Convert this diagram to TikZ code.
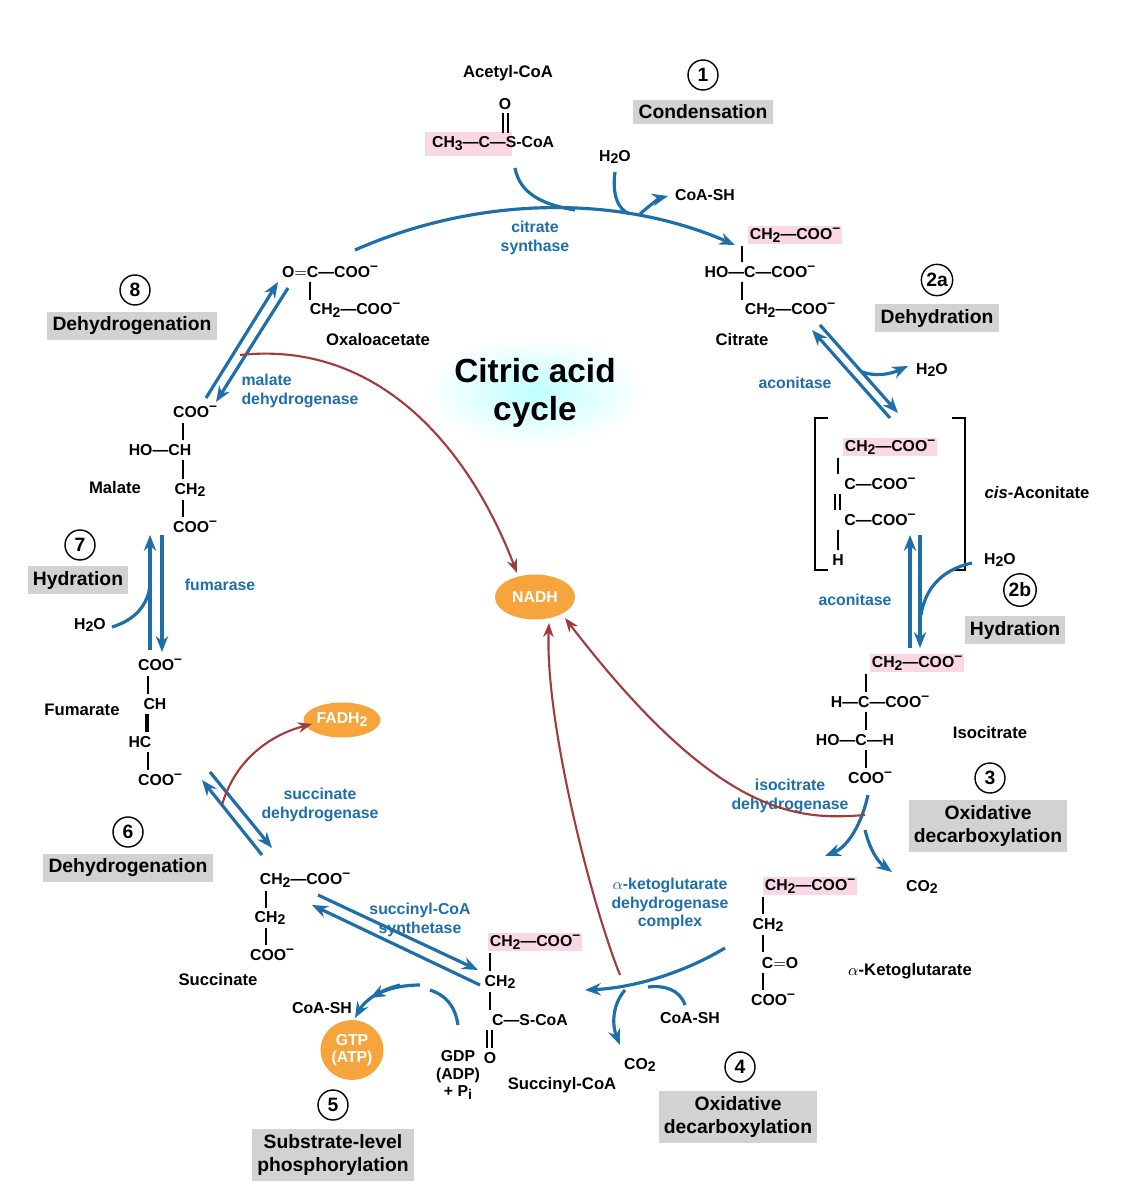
\documentclass[tikz,border=0pt]{standalone}
\usepackage{fontspec}
\setmainfont{Liberation Sans}
\usetikzlibrary{arrows.meta,shapes.geometric}
\newcommand\ssb[1]{\raisebox{-0.35ex}{\footnotesize #1}}
\newcommand\mm{\raisebox{0.9ex}{\footnotesize --}}
\definecolor{bl}{RGB}{30,110,170}
\definecolor{rb}{RGB}{160,60,60}
\definecolor{pk}{RGB}{250,215,228}
\definecolor{gr}{RGB}{210,210,210}
\definecolor{og}{RGB}{245,165,60}
\begin{document}
\begin{tikzpicture}[x=0.02cm,y=-0.02cm,
 ch/.style={font=\fontsize{9}{10}\selectfont\bfseries,inner sep=1pt},
 lab/.style={font=\fontsize{9.5}{11}\selectfont\bfseries},
 enz/.style={font=\fontsize{9}{10.5}\selectfont\bfseries,text=bl,align=center,inner sep=1pt},
 box/.style={fill=gr,font=\fontsize{11}{13}\selectfont\bfseries,align=center,inner sep=3pt},
 num/.style={circle,draw,thick,font=\fontsize{11}{12}\selectfont\bfseries,inner sep=1.2pt,minimum size=0.6cm},
 pkh/.style={ch,fill=pk},
 prod/.style={ellipse,fill=og,text=white,font=\fontsize{9}{10}\selectfont\bfseries,align=center,inner sep=1pt},
 ba/.style={draw=bl,line width=1.8pt,-{Stealth[length=9pt,width=7pt]}},
 bl2/.style={draw=bl,line width=1.8pt},
 ra/.style={draw=rb,line width=1.2pt,-{Stealth[length=8pt,width=6pt]}},
 bd/.style={line width=0.8pt}]
\useasboundingbox (0,0) rectangle (1137,1200);
\fill[white] (0,0) rectangle (1137,1200);
\shade[inner color=cyan!25,outer color=white] (535,392) ellipse (110 and 55);
\node[font=\fontsize{19}{22}\selectfont\bfseries,align=center] (title) at (535,393) {Citric acid\\cycle};
% Step labels
\node[num] (n1) at (703,75) {1};
\node[box] (b1) at (703,112) {Condensation};
\node[num] (n2a) at (937,280) {2a};
\node[box] (b2a) at (937,318) {Dehydration};
\node[num] (n2b) at (1020,590) {2b};
\node[box] (b2b) at (1015,630) {Hydration};
\node[num] (n3) at (990,778) {3};
\node[box] (b3) at (988,826) {Oxidative\\decarboxylation};
\node[num] (n4) at (740,1067) {4};
\node[box] (b4) at (738,1117) {Oxidative\\decarboxylation};
\node[num] (n5) at (333,1105) {5};
\node[box] (b5) at (333,1155) {Substrate-level\\phosphorylation};
\node[num] (n6) at (128,832) {6};
\node[box] (b6) at (128,868) {Dehydrogenation};
\node[num] (n7) at (80,545) {7};
\node[box] (b7) at (78,580) {Hydration};
\node[num] (n8) at (135,290) {8};
\node[box] (b8) at (132,326) {Dehydrogenation};
% Acetyl-CoA
\node[lab] (acl) at (508,73) {Acetyl-CoA};
\fill[pk] (425,132) rectangle (512,156);
\node[ch] (aco) at (505,104) {O};
\node[ch,anchor=west] (acm) at (430,144) {CH\ssb{3}---C---S-CoA};
\draw[bd] (503,113)--(503,133) (508,113)--(508,133);
\node[ch] (h2o1) at (615,157) {H\ssb{2}O};
\node[ch] (coa1) at (705,195) {CoA-SH};
% Citrate
\node[pkh] (ci1) at (795,235) {CH\ssb{2}---COO\mm};
\node[ch] (ci2) at (760,272) {HO---C---COO\mm};
\node[ch] (ci3) at (790,310) {CH\ssb{2}---COO\mm};
\node[lab] (cil) at (742,340) {Citrate};
\draw[bd] (742,246)--(742,262) (742,282)--(742,300);
% Oxaloacetate
\node[ch] (ox1) at (330,272) {O$=$C---COO\mm};
\node[ch] (ox2) at (355,310) {CH\ssb{2}---COO\mm};
\node[lab] (oxl) at (378,340) {Oxaloacetate};
\draw[bd] (310,282)--(310,300);
% cis-aconitate
\draw[line width=1pt] (828,418)--(815,418)--(815,570)--(828,570) (952,418)--(965,418)--(965,570)--(952,570);
\node[pkh] (ca1) at (890,447) {CH\ssb{2}---COO\mm};
\node[ch] (ca2) at (880,484) {C---COO\mm};
\node[ch] (ca3) at (880,520) {C---COO\mm};
\node[ch] (ca4) at (838,560) {H};
\draw[bd] (838,458)--(838,474) (835,494)--(835,510) (840,494)--(840,510) (838,530)--(838,550);
\node[lab] (cal) at (1037,493) {\textit{cis}-Aconitate};
% Isocitrate
\node[pkh] (ic1) at (917,663) {CH\ssb{2}---COO\mm};
\node[ch] (ic2) at (880,702) {H---C---COO\mm};
\node[ch] (ic3) at (855,740) {HO---C---H};
\node[ch] (ic4) at (870,778) {COO\mm};
\draw[bd] (866,674)--(866,692) (866,712)--(866,730) (866,750)--(866,768);
\node[lab] (icl) at (990,733) {Isocitrate};
% alpha-KG
\node[pkh] (kg1) at (810,886) {CH\ssb{2}---COO\mm};
\node[ch] (kg2) at (768,925) {CH\ssb{2}};
\node[ch] (kg3) at (780,963) {C$=$O};
\node[ch] (kg4) at (773,1000) {COO\mm};
\draw[bd] (763,897)--(763,914) (763,935)--(763,952) (763,973)--(763,990);
\node[lab] (kgl) at (910,971) {$\alpha$-Ketoglutarate};
% Succinyl-CoA
\node[pkh] (sc1) at (535,942) {CH\ssb{2}---COO\mm};
\node[ch] (sc2) at (500,982) {CH\ssb{2}};
\node[ch] (sc3) at (530,1020) {C---S-CoA};
\node[ch] (sc4) at (490,1058) {O};
\draw[bd] (490,953)--(490,971) (490,992)--(490,1010) (487,1030)--(487,1048) (492,1030)--(492,1048);
\node[lab] (scl) at (562,1085) {Succinyl-CoA};
\node[ch,align=center] (gdp) at (458,1075) {GDP\\(ADP)\\+ P\ssb{i}};
\node[ch] (coa3) at (322,1008) {CoA-SH};
\node[prod,minimum width=60pt*0.567,minimum height=60pt*0.567] (gtp) at (352,1050) {GTP\\(ATP)};
% Succinate
\node[ch] (su1) at (305,880) {CH\ssb{2}---COO\mm};
\node[ch] (su2) at (270,918) {CH\ssb{2}};
\node[ch] (su3) at (272,955) {COO\mm};
\draw[bd] (266,891)--(266,908) (266,928)--(266,945);
\node[lab] (sul) at (218,980) {Succinate};
\node[prod,minimum width=1.3cm,minimum height=0.7cm] (fadh) at (342,720) {FADH\ssb{2}};
% Fumarate
\node[ch] (fu1) at (160,665) {COO\mm};
\node[ch] (fu2) at (155,704) {CH};
\node[ch] (fu3) at (140,742) {HC};
\node[ch] (fu4) at (160,780) {COO\mm};
\draw[bd] (148,676)--(148,694) (148,714)--(148,732) (146,714)--(146,732) (148,752)--(148,770);
\node[lab] (ful) at (82,710) {Fumarate};
\node[ch] (h2o7) at (90,625) {H\ssb{2}O};
% Malate
\node[ch] (ma1) at (195,412) {COO\mm};
\node[ch] (ma2) at (160,450) {HO---CH};
\node[ch] (ma3) at (190,490) {CH\ssb{2}};
\node[ch] (ma4) at (195,527) {COO\mm};
\draw[bd] (183,423)--(183,440) (183,460)--(183,479) (183,500)--(183,517);
\node[lab] (mal) at (115,488) {Malate};
% enzymes
\node[enz] (e1) at (535,238) {citrate\\synthase};
\node[enz] (e2a) at (795,383) {aconitase};
\node[enz] (e2b) at (855,600) {aconitase};
\node[enz] (e3) at (790,796) {isocitrate\\dehydrogenase};
\node[enz] (e4) at (670,904) {$\alpha$-ketoglutarate\\dehydrogenase\\complex};
\node[enz] (e5) at (420,920) {succinyl-CoA\\synthetase};
\node[enz] (e6) at (320,805) {succinate\\dehydrogenase};
\node[enz] (e7) at (220,585) {fumarase};
\node[enz,align=left] (e8) at (300,391) {malate\\dehydrogenase};
\node[ch] (h2o2a) at (932,370) {H\ssb{2}O};
\node[ch] (h2o2b) at (1000,560) {H\ssb{2}O};
\node[ch] (co23) at (922,887) {CO\ssb{2}};
\node[ch] (coa4) at (690,1018) {CoA-SH};
\node[ch] (co24) at (640,1065) {CO\ssb{2}};
\node[prod,minimum width=1.6cm,minimum height=0.9cm] (nadh) at (535,597) {NADH};
% main arrows
\draw[ba] (355,250) .. controls (480,195) and (620,195) .. (735,245);
\draw[bl2] (515,168) .. controls (520,195) and (545,205) .. (575,210);
\draw[bl2] (615,172) .. controls (612,195) and (618,210) .. (630,214);
\draw[ba] (640,214) .. controls (650,205) and (660,198) .. (668,196);
% citrate -> cis-aconitate
\draw[ba] (820,325)--(898,413);
\draw[bl2,-{Stealth[length=9pt,width=7pt]}] (890,418)--(812,330);
\draw[ba] (862,372) .. controls (880,378) and (895,372) .. (908,366);
% cis -> isocitrate
\draw[ba] (920,535)--(920,648);
\draw[bl2,-{Stealth[length=9pt,width=7pt]}] (910,648)--(910,535);
\draw[bl2] (972,563) .. controls (940,570) and (925,590) .. (921,615);
% isocitrate -> aKG
\draw[ba] (868,795) .. controls (860,830) and (845,848) .. (825,856);
\draw[ba] (865,830) .. controls (870,850) and (878,862) .. (892,872);
% aKG -> succinyl-CoA
\draw[ba] (725,948) .. controls (680,975) and (630,988) .. (585,990);
\draw[bl2] (685,1005) .. controls (680,990) and (665,985) .. (648,987);
\draw[ba] (625,990) .. controls (612,1005) and (612,1025) .. (620,1045);
% succinyl-CoA -> succinate
\draw[ba] (480,985)--(312,905);
\draw[bl2,-{Stealth[length=9pt,width=7pt]}] (318,895)--(478,970);
\draw[bl2] (458,1025) .. controls (455,1005) and (445,995) .. (430,990);
\draw[ba] (420,985) .. controls (400,985) and (385,990) .. (370,998);
\draw[ba] (400,985) .. controls (380,990) and (365,1000) .. (355,1018);
% succinate <-> fumarate
\draw[ba] (262,855)--(202,780);
\draw[bl2,-{Stealth[length=9pt,width=7pt]}] (210,772)--(272,848);
% fumarate <-> malate
\draw[ba] (150,650)--(150,535);
\draw[bl2,-{Stealth[length=9pt,width=7pt]}] (162,535)--(162,652);
\draw[bl2] (112,627) .. controls (135,620) and (148,605) .. (150,585);
% malate <-> oxaloacetate
\draw[ba] (206,398)--(278,282);
\draw[bl2,-{Stealth[length=9pt,width=7pt]}] (288,288)--(216,402);
% redox arrows
\draw[ra] (240,355) .. controls (380,340) and (470,450) .. (517,573);
\draw[ra] (865,815) .. controls (800,820) and (720,820) .. (565,618);
\draw[ra] (620,975) .. controls (590,900) and (545,720) .. (549,623);
\draw[ra] (222,805) .. controls (235,760) and (270,735) .. (312,724);
\end{tikzpicture}
\end{document}
